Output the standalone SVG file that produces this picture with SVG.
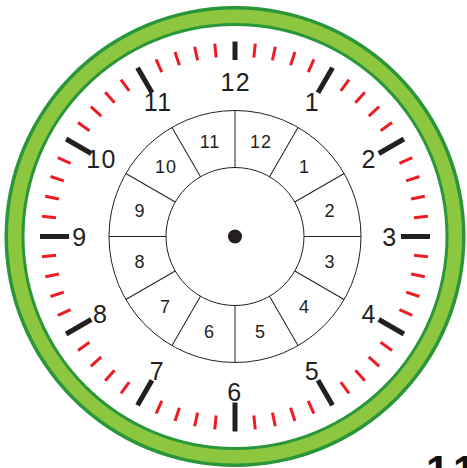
<svg xmlns="http://www.w3.org/2000/svg" xmlns:xlink="http://www.w3.org/1999/xlink" width="467" height="468" viewBox="0 0 467 468">
<style>
.num{font-family:"Liberation Sans",Arial,sans-serif;fill:#231f20;text-anchor:middle}
.out{font-size:25px}
.in{font-size:18px}
.ring{fill:none;stroke:#231f20;stroke-width:1}
.mt{stroke:#ed1c24;stroke-width:3}
.ht{stroke:#231f20;stroke-width:5}
</style>
<defs>
<line id="mt" class="mt" x1="235" y1="42.5" x2="235" y2="56.5"/>
<line id="ht" class="ht" x1="235" y1="41.5" x2="235" y2="70.5"/>
<line id="dv" class="ring" x1="235" y1="110.5" x2="235" y2="167.5"/>
</defs>
<rect width="467" height="468" fill="#ffffff"/>
<g id="bezel">
<circle cx="235" cy="236.5" r="230.5" fill="#2a963a"/>
<circle cx="235" cy="236.5" r="227" fill="#8dc63f"/>
<circle cx="235" cy="236.5" r="213.5" fill="#2a963a"/>
<circle cx="235" cy="236.5" r="210.5" fill="#ffffff"/>
</g>
<g id="minute-ticks">
<use xlink:href="#mt" transform="rotate(6 235 236.5)"/>
<use xlink:href="#mt" transform="rotate(12 235 236.5)"/>
<use xlink:href="#mt" transform="rotate(18 235 236.5)"/>
<use xlink:href="#mt" transform="rotate(24 235 236.5)"/>
<use xlink:href="#mt" transform="rotate(36 235 236.5)"/>
<use xlink:href="#mt" transform="rotate(42 235 236.5)"/>
<use xlink:href="#mt" transform="rotate(48 235 236.5)"/>
<use xlink:href="#mt" transform="rotate(54 235 236.5)"/>
<use xlink:href="#mt" transform="rotate(66 235 236.5)"/>
<use xlink:href="#mt" transform="rotate(72 235 236.5)"/>
<use xlink:href="#mt" transform="rotate(78 235 236.5)"/>
<use xlink:href="#mt" transform="rotate(84 235 236.5)"/>
<use xlink:href="#mt" transform="rotate(96 235 236.5)"/>
<use xlink:href="#mt" transform="rotate(102 235 236.5)"/>
<use xlink:href="#mt" transform="rotate(108 235 236.5)"/>
<use xlink:href="#mt" transform="rotate(114 235 236.5)"/>
<use xlink:href="#mt" transform="rotate(126 235 236.5)"/>
<use xlink:href="#mt" transform="rotate(132 235 236.5)"/>
<use xlink:href="#mt" transform="rotate(138 235 236.5)"/>
<use xlink:href="#mt" transform="rotate(144 235 236.5)"/>
<use xlink:href="#mt" transform="rotate(156 235 236.5)"/>
<use xlink:href="#mt" transform="rotate(162 235 236.5)"/>
<use xlink:href="#mt" transform="rotate(168 235 236.5)"/>
<use xlink:href="#mt" transform="rotate(174 235 236.5)"/>
<use xlink:href="#mt" transform="rotate(186 235 236.5)"/>
<use xlink:href="#mt" transform="rotate(192 235 236.5)"/>
<use xlink:href="#mt" transform="rotate(198 235 236.5)"/>
<use xlink:href="#mt" transform="rotate(204 235 236.5)"/>
<use xlink:href="#mt" transform="rotate(216 235 236.5)"/>
<use xlink:href="#mt" transform="rotate(222 235 236.5)"/>
<use xlink:href="#mt" transform="rotate(228 235 236.5)"/>
<use xlink:href="#mt" transform="rotate(234 235 236.5)"/>
<use xlink:href="#mt" transform="rotate(246 235 236.5)"/>
<use xlink:href="#mt" transform="rotate(252 235 236.5)"/>
<use xlink:href="#mt" transform="rotate(258 235 236.5)"/>
<use xlink:href="#mt" transform="rotate(264 235 236.5)"/>
<use xlink:href="#mt" transform="rotate(276 235 236.5)"/>
<use xlink:href="#mt" transform="rotate(282 235 236.5)"/>
<use xlink:href="#mt" transform="rotate(288 235 236.5)"/>
<use xlink:href="#mt" transform="rotate(294 235 236.5)"/>
<use xlink:href="#mt" transform="rotate(306 235 236.5)"/>
<use xlink:href="#mt" transform="rotate(312 235 236.5)"/>
<use xlink:href="#mt" transform="rotate(318 235 236.5)"/>
<use xlink:href="#mt" transform="rotate(324 235 236.5)"/>
<use xlink:href="#mt" transform="rotate(336 235 236.5)"/>
<use xlink:href="#mt" transform="rotate(342 235 236.5)"/>
<use xlink:href="#mt" transform="rotate(348 235 236.5)"/>
<use xlink:href="#mt" transform="rotate(354 235 236.5)"/>
</g>
<g id="hour-ticks">
<line class="ht" x1="235" y1="41.5" x2="235" y2="60"/>
<use xlink:href="#ht" transform="rotate(30 235 236.5)"/>
<use xlink:href="#ht" transform="rotate(60 235 236.5)"/>
<use xlink:href="#ht" transform="rotate(90 235 236.5)"/>
<use xlink:href="#ht" transform="rotate(120 235 236.5)"/>
<use xlink:href="#ht" transform="rotate(150 235 236.5)"/>
<use xlink:href="#ht" transform="rotate(180 235 236.5)"/>
<use xlink:href="#ht" transform="rotate(210 235 236.5)"/>
<use xlink:href="#ht" transform="rotate(240 235 236.5)"/>
<use xlink:href="#ht" transform="rotate(270 235 236.5)"/>
<use xlink:href="#ht" transform="rotate(300 235 236.5)"/>
<use xlink:href="#ht" transform="rotate(330 235 236.5)"/>
</g>
<g id="hour-numbers" class="num out" letter-spacing="1.5">
<text x="235.8" y="90.5">12</text>
<text x="312.5" y="111.3">1</text>
<text x="369.2" y="168">2</text>
<text x="390" y="245.5">3</text>
<text x="369.2" y="323">4</text>
<text x="312.5" y="379.7">5</text>
<text x="235" y="400.5">6</text>
<text x="157.5" y="379.7">7</text>
<text x="100.8" y="323">8</text>
<text x="80" y="245.5">9</text>
<text x="101.6" y="168">10</text>
<text x="158.3" y="111.3">11</text>
</g>
<g id="inner-ring">
<circle class="ring" cx="235" cy="236.5" r="126"/>
<circle class="ring" cx="235" cy="236.5" r="69"/>
<use xlink:href="#dv"/>
<use xlink:href="#dv" transform="rotate(30 235 236.5)"/>
<use xlink:href="#dv" transform="rotate(60 235 236.5)"/>
<use xlink:href="#dv" transform="rotate(90 235 236.5)"/>
<use xlink:href="#dv" transform="rotate(120 235 236.5)"/>
<use xlink:href="#dv" transform="rotate(150 235 236.5)"/>
<use xlink:href="#dv" transform="rotate(180 235 236.5)"/>
<use xlink:href="#dv" transform="rotate(210 235 236.5)"/>
<use xlink:href="#dv" transform="rotate(240 235 236.5)"/>
<use xlink:href="#dv" transform="rotate(270 235 236.5)"/>
<use xlink:href="#dv" transform="rotate(300 235 236.5)"/>
<use xlink:href="#dv" transform="rotate(330 235 236.5)"/>
</g>
<g id="inner-numbers" class="num in" letter-spacing="1">
<text x="261" y="147.8">12</text>
<text x="304.6" y="173.3">1</text>
<text x="330.1" y="217.4">2</text>
<text x="330.1" y="268.4">3</text>
<text x="304.6" y="312.5">4</text>
<text x="260.5" y="338">5</text>
<text x="209.5" y="338">6</text>
<text x="165.4" y="312.5">7</text>
<text x="139.9" y="268.4">8</text>
<text x="139.9" y="217.4">9</text>
<text x="165.9" y="173.3">10</text>
<text x="210" y="147.8">11</text>
</g>
<circle id="center-dot" cx="235" cy="236.5" r="7" fill="#231f20"/>
<text id="stray-label" x="426" y="485" font-family="Liberation Sans,Arial,sans-serif" font-weight="bold" font-size="42" letter-spacing="6" fill="#111111">11</text>
</svg>
